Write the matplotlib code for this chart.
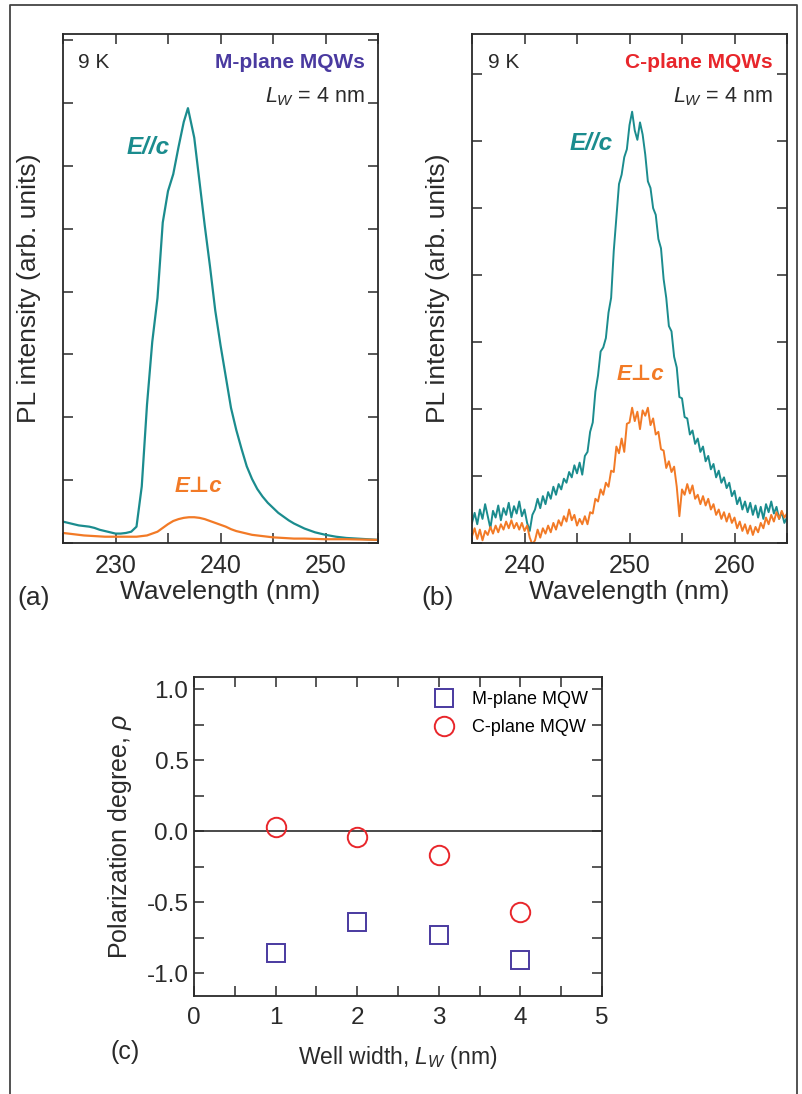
import numpy as np
import matplotlib
matplotlib.use("Agg")
import matplotlib.pyplot as plt
from matplotlib.ticker import MultipleLocator, NullFormatter
from matplotlib.lines import Line2D

plt.rcParams["font.family"] = ["Liberation Sans", "DejaVu Sans"]
plt.rcParams["mathtext.fontset"] = "custom"
plt.rcParams["mathtext.rm"] = "Liberation Sans"
plt.rcParams["mathtext.it"] = "Liberation Sans:italic"
plt.rcParams["axes.unicode_minus"] = False

TEAL = "#1b8c8e"
ORANGE = "#f27a26"
PURPLE = "#4a3aa0"
RED = "#e8262b"
INK = "#2a2a2a"

# ---- (a) M-plane, smooth spectra -------------------------------------------
wl_a_par = [225.0, 225.5, 226.0, 226.5, 227.0, 227.5, 228.0, 228.5, 229.0, 229.5,
            230.0, 230.5, 231.0, 231.5, 232.0, 232.5, 233.0, 233.5, 234.0, 234.5,
            235.0, 235.5, 236.0, 236.5, 236.9, 237.5, 238.0, 238.5, 239.0, 239.5,
            240.0, 240.5, 241.0, 241.5, 242.0, 242.5, 243.0, 243.5, 244.0, 244.5,
            245.0, 245.5, 246.0, 246.5, 247.0, 247.5, 248.0, 249.0, 250.0, 251.0,
            252.0, 253.0, 254.0, 255.0]
pl_a_par = [0.34, 0.32, 0.30, 0.28, 0.27, 0.26, 0.24, 0.21, 0.19, 0.17,
            0.15, 0.15, 0.16, 0.18, 0.26, 0.90, 2.20, 3.20, 3.90, 5.10,
            5.60, 5.87, 6.30, 6.70, 6.92, 6.45, 5.75, 5.05, 4.40, 3.70,
            3.15, 2.65, 2.15, 1.80, 1.50, 1.22, 1.02, 0.86, 0.74, 0.64,
            0.56, 0.48, 0.42, 0.36, 0.31, 0.27, 0.23, 0.17, 0.13, 0.10,
            0.08, 0.07, 0.06, 0.05]

wl_a_perp = [225.0, 226.0, 227.0, 228.0, 229.0, 230.0, 231.0, 232.0, 233.0, 234.0,
             234.5, 235.0, 235.5, 236.0, 236.5, 237.0, 237.5, 238.0, 238.5, 239.0,
             239.5, 240.0, 240.5, 241.0, 241.5, 242.0, 243.0, 244.0, 245.0, 246.0,
             247.0, 248.0, 250.0, 252.0, 255.0]
pl_a_perp = [0.16, 0.14, 0.12, 0.11, 0.10, 0.10, 0.10, 0.10, 0.12, 0.18,
             0.24, 0.30, 0.35, 0.38, 0.40, 0.41, 0.41, 0.40, 0.38, 0.35,
             0.32, 0.29, 0.26, 0.22, 0.19, 0.17, 0.13, 0.11, 0.09, 0.08,
             0.07, 0.07, 0.06, 0.06, 0.05]

# ---- (b) C-plane, noisy spectra, 235..265 nm every 0.25 nm -----------------
wl_b = np.arange(235.0, 265.001, 0.25)
pl_b_par = [0.30, 0.45, 0.28, 0.50, 0.36, 0.58, 0.40, 0.22, 0.48, 0.38,
            0.56, 0.34, 0.52, 0.42, 0.60, 0.38, 0.55, 0.44, 0.62, 0.40,
            0.50, 0.30, 0.18, 0.42, 0.50, 0.66, 0.52, 0.70, 0.58, 0.76,
            0.66, 0.84, 0.72, 0.88, 0.80, 0.96, 0.90, 1.06, 0.98, 1.16,
            1.04, 1.20, 1.02, 1.30, 1.36, 1.66, 1.80, 2.26, 2.50, 2.86,
            2.92, 3.06, 3.44, 3.66, 4.36, 4.86, 5.36, 5.50, 5.76, 5.88,
            6.24, 6.44, 6.16, 6.02, 6.28, 6.10, 5.80, 5.40, 5.30, 5.00,
            4.90, 4.54, 4.40, 3.94, 3.66, 3.24, 3.16, 2.78, 2.62, 2.18,
            2.16, 1.88, 1.86, 1.62, 1.68, 1.48, 1.56, 1.36, 1.44, 1.22,
            1.30, 1.10, 1.18, 0.98, 1.08, 0.90, 0.98, 0.82, 0.90, 0.70,
            0.78, 0.58, 0.68, 0.50, 0.62, 0.46, 0.60, 0.42, 0.56, 0.38,
            0.54, 0.36, 0.58, 0.46, 0.62, 0.44, 0.54, 0.36, 0.46, 0.30,
            0.38]
pl_b_perp = [0.10, 0.22, 0.06, 0.20, 0.04, 0.18, 0.12, 0.24, 0.14, 0.26,
             0.16, 0.28, 0.20, 0.32, 0.22, 0.34, 0.22, 0.30, 0.20, 0.30,
             0.18, 0.26, 0.08, -0.02, 0.04, 0.20, 0.08, 0.22, 0.14, 0.26,
             0.16, 0.30, 0.20, 0.34, 0.26, 0.40, 0.32, 0.50, 0.34, 0.42,
             0.26, 0.36, 0.28, 0.40, 0.28, 0.46, 0.44, 0.66, 0.62, 0.80,
             0.72, 0.90, 0.84, 1.08, 1.06, 1.44, 1.34, 1.56, 1.36, 1.78,
             1.80, 2.02, 1.82, 1.96, 1.70, 1.98, 1.90, 2.02, 1.76, 1.86,
             1.62, 1.66, 1.40, 1.38, 1.12, 1.22, 1.06, 1.14, 0.84, 0.40,
             0.80, 0.72, 0.88, 0.74, 0.86, 0.66, 0.72, 0.58, 0.70, 0.56,
             0.66, 0.50, 0.58, 0.42, 0.50, 0.36, 0.46, 0.32, 0.44, 0.30,
             0.38, 0.22, 0.32, 0.18, 0.28, 0.14, 0.26, 0.12, 0.24, 0.16,
             0.30, 0.22, 0.38, 0.28, 0.42, 0.32, 0.46, 0.36, 0.48, 0.38,
             0.44]

# ---- (c) polarization degree vs well width ---------------------------------
well_width = [1, 2, 3, 4]
rho_m_plane = [-0.86, -0.64, -0.73, -0.91]
rho_c_plane = [0.03, -0.04, -0.17, -0.57]

W, H = 803, 1094


def rect(left, top, right, bottom):
    return [left / W, 1 - bottom / H, (right - left) / W, (bottom - top) / H]


def fx(x):
    return x / W


def fy(y):
    return 1 - y / H


def style_axes(ax, size=18):
    for s in ax.spines.values():
        s.set_color(INK)
        s.set_linewidth(1.3)
    ax.tick_params(which="both", direction="in", top=True, right=True,
                   length=7, width=1.1, color=INK, labelsize=size,
                   labelcolor=INK)
    ax.tick_params(axis="x", pad=8)
    ax.tick_params(axis="y", pad=4)


fig = plt.figure(figsize=(W / 100, H / 100), dpi=100)

# outer frame (left, top and right edges)
fig.add_artist(Line2D([fx(10), fx(10), fx(797), fx(797)],
                      [fy(1094), fy(5), fy(5), fy(1094)],
                      color="#444444", lw=1.3, transform=fig.transFigure))

# panel (a)
ax_a = fig.add_axes(rect(63, 34, 378, 543))
ax_a.plot(wl_a_par, pl_a_par, color=TEAL, lw=1.6)
ax_a.plot(wl_a_perp, pl_a_perp, color=ORANGE, lw=1.6)
ax_a.set_xlim(225, 255)
ax_a.set_ylim(0, 8.1)
ax_a.xaxis.set_major_locator(MultipleLocator(10))
ax_a.xaxis.set_minor_locator(MultipleLocator(5))
ax_a.yaxis.set_major_locator(MultipleLocator(1))
ax_a.yaxis.set_major_formatter(NullFormatter())
style_axes(ax_a)
ax_a.set_xlabel("Wavelength (nm)", fontsize=19, color=INK, labelpad=1)
ax_a.set_ylabel("PL intensity (arb. units)", fontsize=19, color=INK, labelpad=12)

# panel (b)
ax_b = fig.add_axes(rect(472, 34, 787, 543))
ax_b.plot(wl_b, pl_b_par, color=TEAL, lw=1.4)
ax_b.plot(wl_b, pl_b_perp, color=ORANGE, lw=1.4)
ax_b.set_xlim(235, 265)
ax_b.set_ylim(0, 7.6)
ax_b.xaxis.set_major_locator(MultipleLocator(10))
ax_b.xaxis.set_minor_locator(MultipleLocator(5))
ax_b.yaxis.set_major_locator(MultipleLocator(1))
ax_b.yaxis.set_major_formatter(NullFormatter())
style_axes(ax_b)
ax_b.set_xlabel("Wavelength (nm)", fontsize=19, color=INK, labelpad=1)
ax_b.set_ylabel("PL intensity (arb. units)", fontsize=19, color=INK, labelpad=12)

# annotations on (a) and (b)
for x0, x1, name, col in [(78, 365, "M-plane MQWs", PURPLE),
                          (488, 773, "C-plane MQWs", RED)]:
    fig.text(fx(x0), fy(63), "9 K", fontsize=15, color=INK, va="center")
    fig.text(fx(x1), fy(63), name, fontsize=15, color=col, va="center",
             ha="right", fontweight="bold")
    fig.text(fx(x1), fy(97), r"$L_W$ = 4 nm", fontsize=15.5, color=INK,
             va="center", ha="right")

fig.text(fx(127), fy(148), "E//c", fontsize=17.5, color=TEAL, style="italic",
         fontweight="bold", va="center")
fig.text(fx(175), fy(487), "E\u22a5c", fontsize=16, color=ORANGE, style="italic",
         fontweight="bold", va="center", family=["Liberation Sans", "DejaVu Sans"])
fig.text(fx(570), fy(143), "E//c", fontsize=17.5, color=TEAL, style="italic",
         fontweight="bold", va="center")
fig.text(fx(617), fy(375), "E\u22a5c", fontsize=16, color=ORANGE, style="italic",
         fontweight="bold", va="center", family=["Liberation Sans", "DejaVu Sans"])

fig.text(fx(17), fy(598), "(a)", fontsize=19, color=INK, va="center")
fig.text(fx(421), fy(598), "(b)", fontsize=19, color=INK, va="center")

# panel (c)
ax_c = fig.add_axes(rect(194, 677, 602, 996))
ax_c.axhline(0, color=INK, lw=1.2)
ax_c.plot(well_width, rho_m_plane, ls="none", marker="s", ms=12.5, mfc="none",
          mec=PURPLE, mew=1.4, label="M-plane MQW")
ax_c.plot(well_width, rho_c_plane, ls="none", marker="o", ms=14, mfc="none",
          mec=RED, mew=1.4, label="C-plane MQW")
ax_c.set_xlim(0, 5)
ax_c.set_ylim(-1.16, 1.085)
ax_c.xaxis.set_major_locator(MultipleLocator(1))
ax_c.xaxis.set_minor_locator(MultipleLocator(0.5))
ax_c.yaxis.set_major_locator(MultipleLocator(0.5))
ax_c.yaxis.set_minor_locator(MultipleLocator(0.25))
style_axes(ax_c, size=17.5)
ax_c.set_xlabel(r"Well width, $L_W$ (nm)", fontsize=16.5, color=INK, labelpad=11)
ax_c.set_ylabel(r"Polarization degree, $\rho$", fontsize=18, color=INK, labelpad=9)
ax_c.legend(loc="upper right", frameon=False, fontsize=13, handletextpad=0.95,
            borderaxespad=0.5, labelspacing=0.6, handlelength=1.2,
            borderpad=0.3)

fig.text(fx(111), fy(1052), "(c)", fontsize=18, color=INK, va="center")

fig.savefig("out.png", dpi=100)
